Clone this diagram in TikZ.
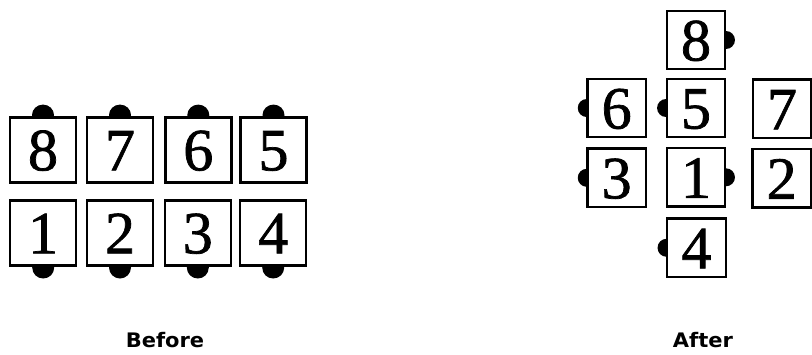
\documentclass[tikz,border=0pt]{standalone}
\usepackage{fontspec}
\setmainfont{Liberation Serif}
\newfontfamily\digitfont[FakeBold=1.2]{Liberation Serif}
\newfontfamily\labelfont{DejaVu Sans}
\usetikzlibrary{backgrounds}
\tikzset{
  tile/.style={draw=black, line width=2.4pt, fill=white, rectangle, inner sep=0pt,
    font=\digitfont\fontsize{60}{60}\selectfont, text height=41pt, text depth=0pt},
  bigtile/.style={tile, minimum width=66pt, minimum height=65pt},
  smalltile/.style={tile, minimum width=58.5pt, minimum height=58.5pt},
  bigdot/.style={fill=black, draw=none},
  caption/.style={font=\labelfont\bfseries\fontsize{20}{20}\selectfont, inner sep=0pt}
}
\begin{document}
\begin{tikzpicture}[x=1pt, y=-1pt]
\useasboundingbox (0,0) rectangle (812,354);
% Before
\node[bigtile] (b8) at (43,149.8) {8};
\node[bigtile] (b7) at (120,149.8) {7};
\node[bigtile] (b6) at (198.3,149.8) {6};
\node[bigtile] (b5) at (273.5,149.8) {5};
\node[bigtile] (b1) at (43.2,232.8) {1};
\node[bigtile] (b2) at (120,232.8) {2};
\node[bigtile] (b3) at (197.8,232.8) {3};
\node[bigtile] (b4) at (273.2,232.8) {4};
% After
\node[smalltile] (a8) at (696,40) {8};
\node[smalltile] (a6) at (616.7,108) {6};
\node[smalltile] (a5) at (696,108) {5};
\node[smalltile] (a7) at (782,108.8) {7};
\node[smalltile] (a3) at (616.7,177.8) {3};
\node[smalltile] (a1) at (696,177.3) {1};
\node[smalltile] (a2) at (781.7,178.3) {2};
\node[smalltile] (a4) at (696.5,247.8) {4};
% dots
\begin{scope}[on background layer]
  \foreach \n in {b8,b7,b6,b5} \fill[bigdot] ([yshift=1pt]\n.north) ellipse (11pt and 10.5pt);
  \foreach \n in {b1,b2,b3,b4} \fill[bigdot] ([yshift=-1pt]\n.south) ellipse (11pt and 11pt);
  \foreach \n in {a8,a1} \fill[bigdot] ([xshift=-0.5pt]\n.east) circle (9pt);
  \foreach \n in {a6,a5,a3,a4} \fill[bigdot] ([xshift=0.5pt]\n.west) circle (9pt);
\end{scope}
% captions
\node[caption, xscale=1.05, transform shape] (before) at (165,340) {Before};
\node[caption, xscale=1.05, transform shape] (after) at (703,340) {After};
\end{tikzpicture}
\end{document}
